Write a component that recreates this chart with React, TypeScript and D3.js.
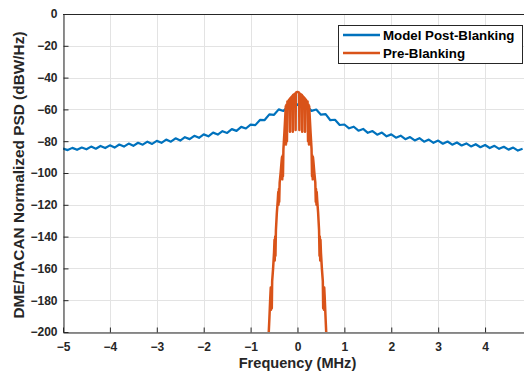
import React, { useEffect, useRef } from 'react';
import * as d3 from 'd3';

// Model post-blanking PSD, sampled every 0.1 MHz from -5 MHz
const postStart = -5;
const postStep = 0.1;
const postDb = [
  -84.6, -85.6, -84.2, -85.4, -84.0, -85.1, -83.4, -84.7, -83.0, -84.3,
  -82.6, -84.0, -82.1, -83.4, -81.5, -82.9, -81.0, -82.2, -80.3, -81.7,
  -79.8, -81.0, -79.0, -80.3, -78.2, -79.6, -77.5, -78.7, -76.6, -77.9,
  -75.7, -76.9, -74.6, -75.8, -73.7, -74.8, -72.4, -73.5, -71.0, -72.0,
  -69.6, -69.9, -66.6, -66.7, -63.1, -63.4, -60.0, -61.0, -58.0, -59.0,
  -56.8, -59.2, -58.1, -60.9, -60.1, -63.3, -63.0, -66.8, -66.5, -69.8,
  -69.5, -71.9, -70.9, -73.4, -72.3, -74.7, -73.6, -75.9, -74.6, -76.9,
  -75.7, -77.8, -76.5, -78.7, -77.4, -79.5, -78.1, -80.3, -79.0, -81.0,
  -79.6, -81.6, -80.2, -82.2, -80.8, -82.7, -81.4, -83.3, -81.9, -83.8,
  -82.4, -84.3, -82.9, -84.8, -83.5, -85.3, -84.0, -85.9, -84.8,
];

// Pre-blanking PSD (MHz, dBW/Hz)
const preFreq = [
  -0.62, -0.6, -0.58, -0.57, -0.565, -0.555, -0.548, -0.54, -0.52, -0.5,
  -0.49, -0.485, -0.475, -0.47, -0.46, -0.44, -0.42, -0.41, -0.405, -0.395,
  -0.39, -0.38, -0.36, -0.34, -0.33, -0.325, -0.315, -0.31, -0.3, -0.28,
  -0.26, -0.25, -0.245, -0.235, -0.225, -0.215, -0.2, -0.18, -0.165, -0.16,
  -0.155, -0.105, -0.1, -0.095, -0.045, -0.04, -0.035, 0,
  0.035, 0.04, 0.045, 0.095, 0.1, 0.105, 0.155,
  0.16, 0.165, 0.18, 0.2, 0.215, 0.225, 0.235, 0.245, 0.25, 0.26, 0.28,
  0.3, 0.31, 0.315, 0.325, 0.33, 0.34, 0.36, 0.38, 0.39, 0.395,
  0.405, 0.41, 0.42, 0.44, 0.46, 0.47, 0.475, 0.485, 0.49, 0.5,
  0.52, 0.54, 0.548, 0.555, 0.565, 0.57, 0.58, 0.6, 0.62,
];
const preDb = [
  -205, -192, -178, -172, -186, -173, -185, -168, -160, -150,
  -142, -155, -140, -152, -136, -125, -117, -112, -120, -110,
  -118, -106, -100, -93, -90, -104, -89, -102, -85, -75,
  -64, -58, -82, -57, -80, -55, -55, -54, -53.5, -74,
  -53, -51.5, -74, -51, -50, -73, -49.5, -49,
  -49.5, -73, -50, -51, -74, -51.5, -53,
  -74, -53.5, -54, -55, -55, -80, -57, -82, -58, -64, -75,
  -85, -102, -89, -104, -90, -93, -100, -106, -118, -110,
  -120, -112, -117, -125, -136, -152, -140, -155, -142, -150,
  -160, -168, -185, -173, -186, -172, -178, -192, -205,
];

const xTicks = [-5, -4, -3, -2, -1, 0, 1, 2, 3, 4];
const yTicks = [0, -20, -40, -60, -80, -100, -120, -140, -160, -180, -200];
const seriesNames = ['Model Post-Blanking', 'Pre-Blanking'];
const seriesColors = ['#0072BD', '#D95319'];

const W = 524;
const H = 373;
const margin = { top: 14, right: 0, bottom: 41, left: 63 };
const font = '"Liberation Sans", Arial, sans-serif';

export default function App() {
  const ref = useRef<SVGSVGElement>(null);

  useEffect(() => {
    const svg = d3.select(ref.current);
    svg.selectAll('*').remove();

    const x = d3.scaleLinear().domain([-5, 4.83]).range([margin.left, W - margin.right]);
    const y = d3.scaleLinear().domain([-200, 0]).range([H - margin.bottom, margin.top]);

    svg.append('rect').attr('width', W).attr('height', H).attr('fill', '#fff');

    const defs = svg.append('defs');
    defs.append('clipPath').attr('id', 'plot')
      .append('rect')
      .attr('x', margin.left).attr('y', margin.top)
      .attr('width', W - margin.left - margin.right)
      .attr('height', H - margin.top - margin.bottom);

    // grid
    const grid = svg.append('g').attr('stroke', '#e3e3e3').attr('stroke-width', 1);
    xTicks.forEach(t => {
      grid.append('line')
        .attr('x1', Math.round(x(t)) + 0.5).attr('x2', Math.round(x(t)) + 0.5)
        .attr('y1', y(0)).attr('y2', y(-200));
    });
    yTicks.forEach(t => {
      grid.append('line')
        .attr('x1', x(-5)).attr('x2', W)
        .attr('y1', Math.round(y(t)) + 0.5).attr('y2', Math.round(y(t)) + 0.5);
    });

    const postData = postDb.map((v, i) => [postStart + i * postStep, v] as [number, number]);
    const preData = preFreq.map((f, i) => [f, preDb[i]] as [number, number]);

    const line = d3.line<[number, number]>().x(d => x(d[0])).y(d => y(d[1]));

    const plot = svg.append('g').attr('clip-path', 'url(#plot)');
    plot.append('path').datum(postData)
      .attr('d', line).attr('fill', 'none')
      .attr('stroke', seriesColors[0]).attr('stroke-width', 2.2)
      .attr('stroke-linejoin', 'round');
    plot.append('path').datum(preData)
      .attr('d', line).attr('fill', 'none')
      .attr('stroke', seriesColors[1]).attr('stroke-width', 2.5)
      .attr('stroke-linejoin', 'round');

    // axes (MATLAB style, inward ticks)
    const axisColor = '#262626';
    const xAxis = svg.append('g').attr('transform', `translate(0,${Math.round(y(-200)) + 0.5})`)
      .call(d3.axisBottom(x).tickValues(xTicks).tickSizeInner(-5).tickSizeOuter(0).tickPadding(10));
    const yAxis = svg.append('g').attr('transform', `translate(${Math.round(x(-5)) + 0.5},0)`)
      .call(d3.axisLeft(y).tickValues(yTicks).tickSizeInner(-5).tickSizeOuter(0).tickPadding(6));
    [xAxis, yAxis].forEach(a => {
      a.select('.domain').attr('stroke', axisColor);
      a.selectAll('.tick line').attr('stroke', axisColor);
      a.selectAll('.tick text')
        .attr('fill', axisColor)
        .style('font-family', font)
        .style('font-size', '12px')
        .style('font-weight', 'bold');
    });
    svg.append('line')
      .attr('x1', x(-5)).attr('x2', W)
      .attr('y1', Math.round(y(0)) + 0.5).attr('y2', Math.round(y(0)) + 0.5)
      .attr('stroke', axisColor);

    svg.append('text')
      .attr('x', 297.5).attr('y', 368)
      .attr('text-anchor', 'middle')
      .attr('fill', axisColor)
      .style('font-family', font).style('font-size', '14.6px').style('font-weight', 'bold')
      .text('Frequency (MHz)');

    svg.append('text')
      .attr('transform', `translate(24,175) rotate(-90)`)
      .attr('text-anchor', 'middle')
      .attr('fill', axisColor)
      .style('font-family', font).style('font-size', '15.4px').style('font-weight', 'bold')
      .text('DME/TACAN Normalized PSD (dBW/Hz)');

    // legend
    const lg = svg.append('g');
    lg.append('rect')
      .attr('x', 338.5).attr('y', 25.5).attr('width', 184).attr('height', 38)
      .attr('fill', '#fff').attr('stroke', axisColor).attr('stroke-width', 1);
    seriesNames.forEach((name, i) => {
      const yy = 35 + i * 18;
      lg.append('line')
        .attr('x1', 343).attr('x2', 380).attr('y1', yy).attr('y2', yy)
        .attr('stroke', seriesColors[i]).attr('stroke-width', 2.5);
      lg.append('text')
        .attr('x', 383).attr('y', yy + 4.5)
        .attr('fill', '#000')
        .style('font-family', font).style('font-size', '13.3px').style('font-weight', 'bold')
        .text(name);
    });
  }, []);

  return (
    <div style={{ position: 'fixed', left: 0, top: 0 }}>
      <svg ref={ref} width={W} height={H} style={{ display: 'block' }} />
    </div>
  );
}
